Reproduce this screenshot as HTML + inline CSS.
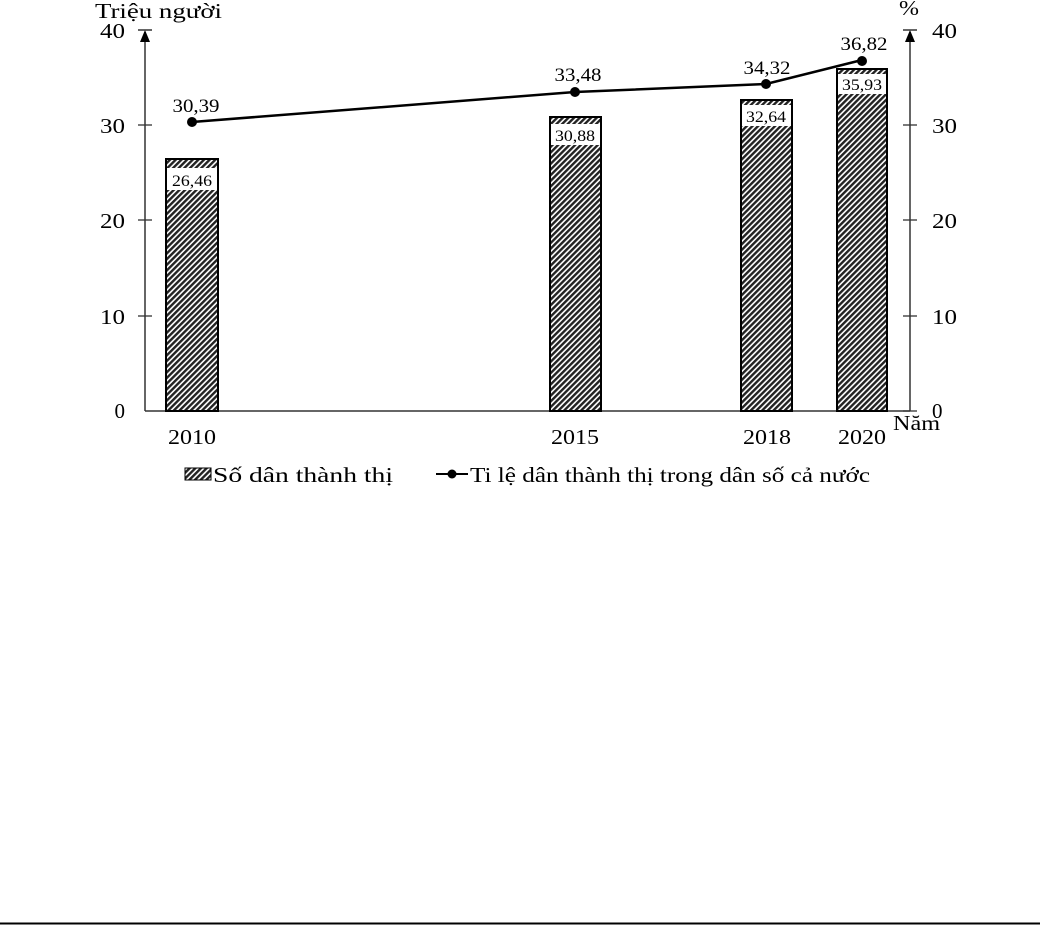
<!DOCTYPE html>
<html><head><meta charset="utf-8"><style>
html,body{margin:0;padding:0;background:#fff;}
svg{display:block;font-family:"Liberation Serif",serif;}
</style></head><body>
<svg width="1055" height="925" viewBox="0 0 1055 925" xmlns="http://www.w3.org/2000/svg">
<defs>
<pattern id="h" width="4" height="4" patternUnits="userSpaceOnUse" patternTransform="rotate(45)">
<rect width="4" height="4" fill="#fff"/><rect width="2.4" height="4" fill="#222"/>
</pattern>
</defs>
<text x="95" y="18" font-size="21" textLength="127" lengthAdjust="spacingAndGlyphs">Triệu người</text>
<text x="899" y="15" font-size="21" textLength="20" lengthAdjust="spacingAndGlyphs">%</text>
<line x1="145" y1="32" x2="145" y2="411" stroke="#333" stroke-width="1.5"/>
<polygon points="140,42 150,42 145,30" fill="#000"/>
<line x1="138" y1="30" x2="152" y2="30" stroke="#333" stroke-width="1.5"/>
<g stroke="#333" stroke-width="1.3">
<line x1="138" y1="125" x2="152" y2="125"/><line x1="138" y1="220" x2="152" y2="220"/><line x1="138" y1="316" x2="152" y2="316"/>
</g>
<g font-size="21" text-anchor="end">
<text x="125" y="38" textLength="25" lengthAdjust="spacingAndGlyphs">40</text>
<text x="125" y="133" textLength="25" lengthAdjust="spacingAndGlyphs">30</text>
<text x="125" y="228" textLength="25" lengthAdjust="spacingAndGlyphs">20</text>
<text x="125" y="324" textLength="25" lengthAdjust="spacingAndGlyphs">10</text>
<text x="125" y="418">0</text>
</g>
<line x1="910" y1="32" x2="910" y2="411" stroke="#333" stroke-width="1.5"/>
<polygon points="905,42 915,42 910,30" fill="#000"/>
<line x1="903" y1="30" x2="917" y2="30" stroke="#333" stroke-width="1.5"/>
<g stroke="#333" stroke-width="1.3">
<line x1="903" y1="125" x2="917" y2="125"/><line x1="903" y1="220" x2="917" y2="220"/><line x1="903" y1="316" x2="917" y2="316"/><line x1="903" y1="411" x2="917" y2="411"/>
</g>
<g font-size="21">
<text x="932" y="38" textLength="25" lengthAdjust="spacingAndGlyphs">40</text>
<text x="932" y="133" textLength="25" lengthAdjust="spacingAndGlyphs">30</text>
<text x="932" y="228" textLength="25" lengthAdjust="spacingAndGlyphs">20</text>
<text x="932" y="324" textLength="25" lengthAdjust="spacingAndGlyphs">10</text>
<text x="932" y="418">0</text>
</g>
<line x1="145" y1="411" x2="910" y2="411" stroke="#333" stroke-width="1.5"/>
<g stroke="#000" stroke-width="2">
<rect x="166" y="159" width="52" height="252" fill="url(#h)"/>
<rect x="550" y="117" width="51" height="294" fill="url(#h)"/>
<rect x="741" y="100" width="51" height="311" fill="url(#h)"/>
<rect x="837" y="69" width="50" height="342" fill="url(#h)"/>
</g>
<g fill="#fff">
<rect x="167" y="168" width="50" height="22"/>
<rect x="551" y="124" width="49" height="21"/>
<rect x="742" y="105" width="49" height="21"/>
<rect x="838" y="74" width="48" height="20"/>
</g>
<g font-size="16" text-anchor="middle">
<text x="192" y="186" textLength="40" lengthAdjust="spacingAndGlyphs">26,46</text>
<text x="575" y="141" textLength="40" lengthAdjust="spacingAndGlyphs">30,88</text>
<text x="766" y="122" textLength="40" lengthAdjust="spacingAndGlyphs">32,64</text>
<text x="862" y="90" textLength="40" lengthAdjust="spacingAndGlyphs">35,93</text>
</g>
<polyline points="192,122 575,92 766,84 862,60" fill="none" stroke="#000" stroke-width="2.5"/>
<g fill="#000">
<circle cx="192" cy="122" r="5"/><circle cx="575" cy="92" r="5"/><circle cx="766" cy="84" r="5"/><circle cx="862" cy="61" r="5"/>
</g>
<g font-size="19" text-anchor="middle">
<text x="196" y="112" textLength="47" lengthAdjust="spacingAndGlyphs">30,39</text>
<text x="578" y="81" textLength="47" lengthAdjust="spacingAndGlyphs">33,48</text>
<text x="767" y="74" textLength="47" lengthAdjust="spacingAndGlyphs">34,32</text>
<text x="864" y="50" textLength="47" lengthAdjust="spacingAndGlyphs">36,82</text>
</g>
<g font-size="21" text-anchor="middle">
<text x="192" y="444" textLength="48" lengthAdjust="spacingAndGlyphs">2010</text>
<text x="575" y="444" textLength="48" lengthAdjust="spacingAndGlyphs">2015</text>
<text x="767" y="444" textLength="48" lengthAdjust="spacingAndGlyphs">2018</text>
<text x="862" y="444" textLength="48" lengthAdjust="spacingAndGlyphs">2020</text>
</g>
<text x="893" y="430" font-size="21" textLength="47" lengthAdjust="spacingAndGlyphs">Năm</text>
<rect x="185" y="468" width="26" height="12" fill="url(#h)" stroke="#000" stroke-width="1"/>
<text x="213" y="482" font-size="21" textLength="180" lengthAdjust="spacingAndGlyphs">Số dân thành thị</text>
<line x1="436" y1="474" x2="468" y2="474" stroke="#000" stroke-width="2"/>
<circle cx="452" cy="474" r="4.5" fill="#000"/>
<text x="470" y="482" font-size="21" textLength="400" lengthAdjust="spacingAndGlyphs">Ti lệ dân thành thị trong dân số cả nước</text>
<line x1="0" y1="923.5" x2="1040" y2="923.5" stroke="#000" stroke-width="2"/>
</svg>
</body></html>
